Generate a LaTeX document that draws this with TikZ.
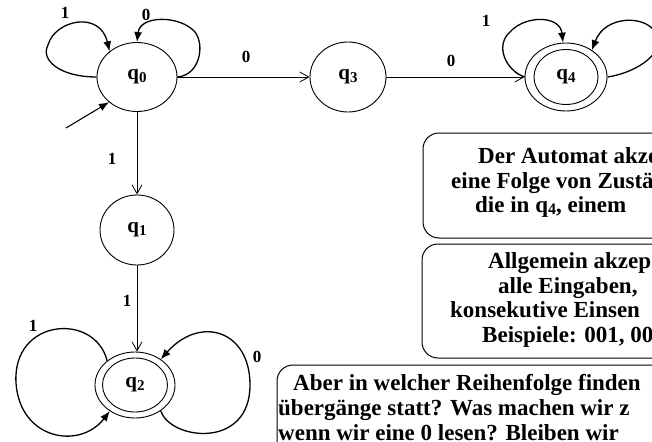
\documentclass[tikz,border=0pt]{standalone}
\usepackage{fontspec}
\setmainfont{Liberation Serif}
\usetikzlibrary{shapes.geometric,arrows.meta}

% lowered index digit in the current text font
\newcommand{\lowidx}[2]{\raisebox{-0.28ex}{\fontsize{#1}{#1}\selectfont #2}}

\begin{document}
\begin{tikzpicture}[x=1pt,y=-1pt,
  state/.style={draw, ellipse, line width=0.9pt, inner sep=0pt,
    font=\fontsize{21}{23}\selectfont\bfseries},
  inring/.style={draw, ellipse, line width=0.9pt, inner sep=0pt},
  lbl/.style={font=\fontsize{17}{19}\selectfont\bfseries, inner sep=0pt},
  trans/.style={line width=0.8pt, -{Straight Barb[length=9pt,width=10pt]}},
  loopedge/.style={line width=1.3pt, -{Latex[length=10pt,width=8pt]}},
  infobox/.style={draw, line width=1pt, rounded corners=16pt},
  infotext/.style={font=\fontsize{23}{25}\selectfont\bfseries, anchor=base west, inner sep=0pt},
]
\useasboundingbox (0,0) rectangle (652,441);
\clip (0,0) rectangle (652,441);

% states
\node[state, minimum width=80pt, minimum height=69pt] (q0) at (137,77) {q\lowidx{15}{0}};
\node[state, minimum width=76pt, minimum height=70pt] (q3) at (348,77) {q\lowidx{15}{3}};
\node[state, minimum width=82pt, minimum height=68pt] (q4) at (566,77) {q\lowidx{15}{4}};
\node[inring, minimum width=64pt, minimum height=55pt] (q4in) at (q4) {};
\node[state, minimum width=74pt, minimum height=70pt] (q1) at (137,230) {q\lowidx{15}{1}};
\node[state, minimum width=80pt, minimum height=66pt] (q2) at (135,385) {q\lowidx{15}{2}};
\node[inring, minimum width=65pt, minimum height=54pt] (q2in) at (q2) {};

% straight transitions
\draw[trans] (q0.east) -- (q3.west);
\draw[trans] (q3.east) -- (q4.west);
\draw[trans] (q0.south) -- (q1.north);
\draw[trans] (q1.south) -- (q1.south |- q2.north);

% start arrow
\coordinate (init) at (66,128);
\draw[line width=1.1pt, -{Latex[length=10pt,width=8pt]}] (init) -- (q0.222);

% self loops
\draw[loopedge] (q0.180) .. controls (60,77) and (40,60) .. (48,45)
  .. controls (55,20) and (100,10) .. (q0.137);
\draw[loopedge] (q0.east) .. controls (200,75) and (205,45) .. (195,32)
  .. controls (180,15) and (140,15) .. (q0.north);
\draw[loopedge] (q4.west) .. controls (505,70) and (495,45) .. (510,32)
  .. controls (525,15) and (560,15) .. (q4.95);
\draw[loopedge] (q4.east) .. controls (640,72) and (668,50) .. (655,32)
  .. controls (645,15) and (605,15) .. (q4.46);
\draw[loopedge] (q2.139) .. controls (95,312) and (12,318) .. (16,383)
  .. controls (20,440) and (80,450) .. (q2.226);
\draw[loopedge] (q2.315) .. controls (170,440) and (250,450) .. (250,385)
  .. controls (250,330) and (200,315) .. (q2.45);

% transition labels
\node[lbl] (l01) at (65,13) {1};
\node[lbl] (l00) at (146,15) {0};
\node[lbl] (l03) at (246,57) {0};
\node[lbl] (l34) at (451,61) {0};
\node[lbl] (l44) at (486,21) {1};
\node[lbl] (l01b) at (112,159) {1};
\node[lbl] (l12) at (127,301) {1};
\node[lbl] (l22a) at (33,326) {1};
\node[lbl] (l22b) at (257,357) {0};

% explanation boxes
\draw[infobox] (423,133) rectangle (720,238);
\draw[infobox] (422,244) rectangle (720,358);
\draw[infobox] (277,365) rectangle (720,480);

\node[infotext] (a1) at (478,163) {Der Automat akze};
\node[infotext] (a2) at (451,188) {eine Folge von Zustä};
\node[infotext] (a3) at (475,212) {die in q\lowidx{16}{4}, einem};
\node[infotext] (b1) at (488,268) {Allgemein akzep};
\node[infotext] (b2) at (498,293) {alle Eingaben,};
\node[infotext] (b3) at (450,317) {konsekutive Einsen};
\node[infotext] (b4) at (482,342) {Beispiele: 001, 00};
\node[infotext] (c1) at (293,390) {Aber in welcher Reihenfolge finden};
\node[infotext] (c2) at (278,415) {übergänge statt? Was machen wir z};
\node[infotext] (c3) at (278,440) {wenn wir eine 0 lesen? Bleiben wir};
\end{tikzpicture}
\end{document}
